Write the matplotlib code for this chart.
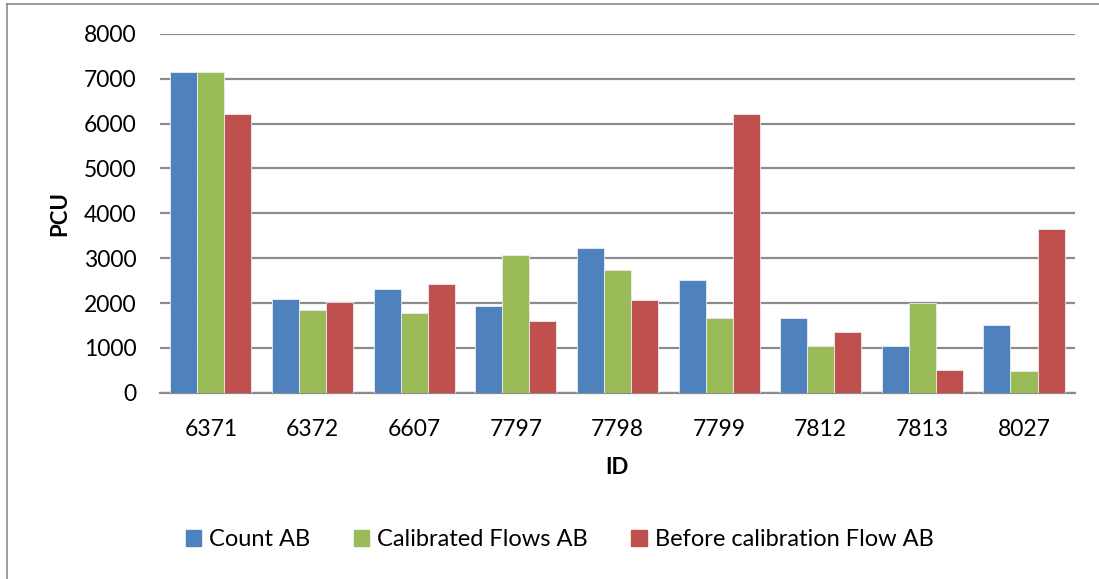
import numpy as np
import matplotlib.pyplot as plt
from matplotlib.patches import Rectangle
from matplotlib.lines import Line2D

ids = ["6371", "6372", "6607", "7797", "7798", "7799", "7812", "7813", "8027"]
count_ab = [7145, 2082, 2305, 1940, 3219, 2506, 1673, 1041, 1502]
calibrated_ab = [7145, 1836, 1777, 3078, 2736, 1665, 1041, 2000, 491]
before_ab = [6216, 2030, 2424, 1606, 2074, 6223, 1346, 506, 3651]

series = ["Count AB", "Calibrated Flows AB", "Before calibration Flow AB"]
colors = ["#4F81BD", "#9BBB59", "#C0504D"]

plt.rcParams['font.family'] = ['Lato', 'DejaVu Sans']

fig = plt.figure(figsize=(10.99, 5.79), dpi=100)
ax = fig.add_axes([0.1456, 0.3218, 0.978 - 0.1456, 0.9413 - 0.3218])

x = np.arange(len(ids))
w = 0.266
for i, (vals, c) in enumerate(zip([count_ab, calibrated_ab, before_ab], colors)):
    ax.bar(x + (i - 1) * w, vals, width=w, color=c, edgecolor="#e8eef5",
           linewidth=0.6, zorder=3)

ax.set_xlim(-0.5, len(ids) - 0.5)
ax.set_ylim(0, 8000)
ax.set_yticks(np.arange(0, 8001, 1000))
ax.set_xticks(x)
ax.set_xticklabels(ids)
ax.grid(axis='y', color='#8c8c8c', linewidth=1.6, zorder=0)
for s in ['top', 'right', 'left']:
    ax.spines[s].set_visible(False)
ax.spines['bottom'].set_color('#8c8c8c')
ax.spines['bottom'].set_linewidth(1.6)
ax.tick_params(axis='both', length=0, labelsize=16.5, colors='black')
ax.tick_params(axis='y', pad=17)
ax.tick_params(axis='x', pad=19)

ax.set_xlabel("ID", fontsize=16, fontweight='bold', labelpad=12)
ax.set_ylabel("PCU", fontsize=16, fontweight='bold', labelpad=10)

handles = [Rectangle((0, 0), 1, 1, color=c) for c in colors]
fig.legend(handles, series, loc='center', bbox_to_anchor=(559.5 / 1099, 1 - 540 / 579),
           ncol=3, frameon=False, fontsize=17, handlelength=0.64,
           handleheight=0.64, handletextpad=0.34, columnspacing=1.86)

# thin grey frame around the chart area
fig.add_artist(Line2D([7 / 1099, 7 / 1099], [0, 1 - 4 / 579], transform=fig.transFigure,
                      color='#8c8c8c', linewidth=1.2))
fig.add_artist(Line2D([7 / 1099, 1], [1 - 4 / 579, 1 - 4 / 579], transform=fig.transFigure,
                      color='#8c8c8c', linewidth=1.2))

fig.savefig("out.png", dpi=100)
